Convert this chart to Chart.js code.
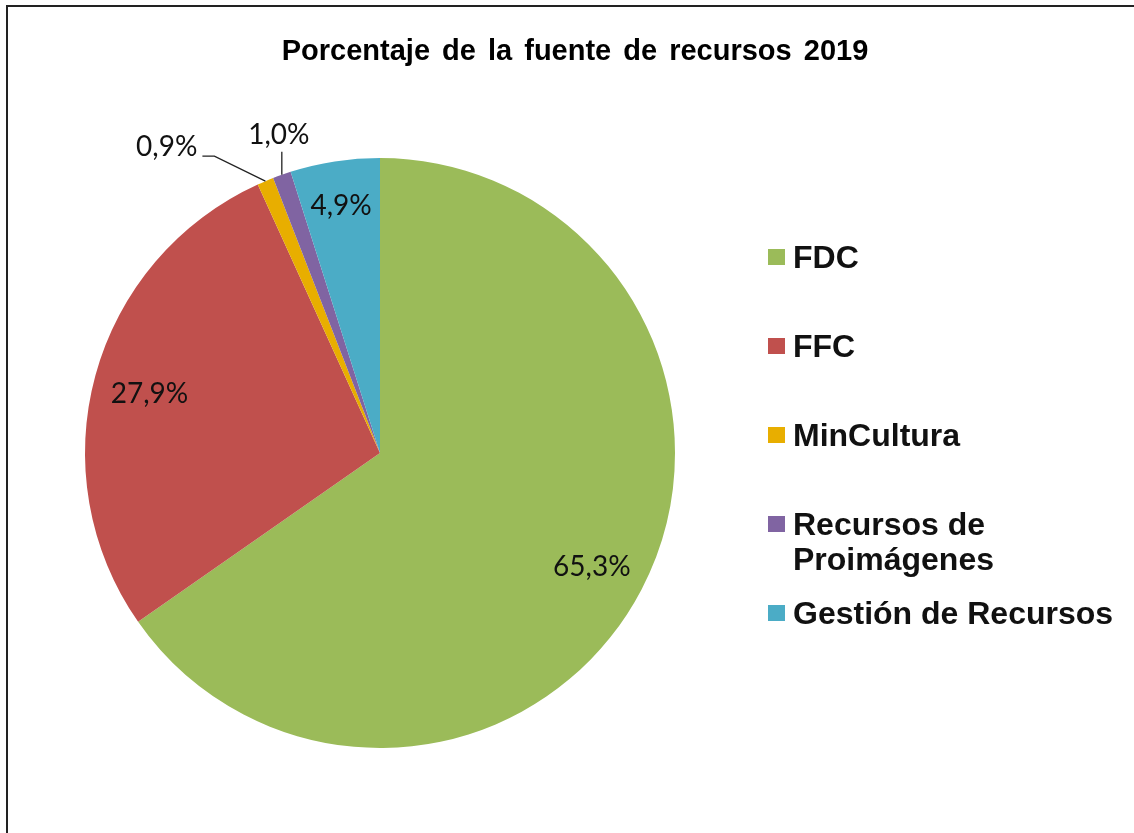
<!DOCTYPE html>
<html>
<head>
<meta charset="utf-8">
<script src="https://cdn.jsdelivr.net/npm/chart.js@4/dist/chart.umd.min.js"></script>
<style>
  html, body { margin: 0; padding: 0; background: #fff; }
  canvas { display: block; }
</style>
</head>
<body>
<canvas id="pie" width="1134" height="833"></canvas>
<script>
// Resource sources 2019, share of total (%).
const categories = ["FDC", "FFC", "MinCultura", "Recursos de Proimágenes", "Gestión de Recursos"];
const legendLines = [["FDC"], ["FFC"], ["MinCultura"], ["Recursos de", "Proimágenes"], ["Gestión de Recursos"]];
const shares = [65.3, 27.9, 0.9, 1.0, 4.9];
const sliceColors = ["#9BBB59", "#C0504D", "#E8AE00", "#8064A2", "#4BACC6"];
const chartTitle = "Porcentaje de la fuente de recursos 2019";

const TEXT = "#111";
const fmt = (v) => v.toFixed(1).replace(".", ",") + "%";

// leader-line callouts for the thin slices: elbow offset, end offset, text anchor offset
const CALLOUTS = {
  2: { elbow: [-51, -25], end: [-63, -25], text: [-68, -35], align: "right" },
  3: { elbow: [0, -23], end: [0, -23], text: [-3, -41], align: "center" },
};

const framePlugin = {
  id: "frame",
  beforeDraw(chart) {
    const c = chart.ctx;
    c.save();
    c.strokeStyle = "#222";
    c.lineWidth = 2;
    c.beginPath();
    c.moveTo(7, chart.height);
    c.lineTo(7, 6);
    c.lineTo(chart.width, 6);
    c.stroke();
    c.restore();
  },
};

const titlePlugin = {
  id: "titleText",
  afterDraw(chart) {
    const c = chart.ctx;
    c.save();
    c.font = "bold 29px 'Liberation Sans', Arial, sans-serif";
    c.fillStyle = "#000";
    c.textAlign = "center";
    c.textBaseline = "alphabetic";
    c.wordSpacing = "4px";
    c.fillText(chartTitle, 575, 60);
    c.restore();
  },
};

// percentage text, visually centred on (x, y)
function digitText(c, s, x, y) {
  c.textBaseline = "alphabetic";
  c.fillText(s, x, y + 10);
}

const sliceLabels = {
  id: "sliceLabels",
  afterDatasetsDraw(chart) {
    const c = chart.ctx;
    const meta = chart.getDatasetMeta(0);
    c.save();
    c.font = "28px Lato, 'Noto Sans', sans-serif";
    c.fillStyle = TEXT;
    c.strokeStyle = "#222";
    c.lineWidth = 1.3;
    meta.data.forEach((arc, i) => {
      const p = arc.getProps(["x", "y", "startAngle", "endAngle", "outerRadius"], true);
      const mid = (p.startAngle + p.endAngle) / 2;
      const v = shares[i];
      const co = CALLOUTS[i];
      if (!co) {
        const k = v < 10 ? 0.86 : 0.81;
        c.textAlign = "center";
        digitText(c, fmt(v), p.x + Math.cos(mid) * p.outerRadius * k, p.y + Math.sin(mid) * p.outerRadius * k + 3);
        return;
      }
      const ex = p.x + Math.cos(mid) * p.outerRadius;
      const ey = p.y + Math.sin(mid) * p.outerRadius;
      c.beginPath();
      c.moveTo(ex, ey);
      c.lineTo(ex + co.elbow[0], ey + co.elbow[1]);
      c.lineTo(ex + co.end[0], ey + co.end[1]);
      c.stroke();
      c.textAlign = co.align;
      digitText(c, fmt(v), ex + co.text[0], ey + co.text[1]);
    });
    c.restore();
  },
};

const sideLegend = {
  id: "sideLegend",
  afterDraw(chart) {
    const c = chart.ctx;
    const colors = chart.data.datasets[0].backgroundColor;
    c.save();
    c.font = "bold 32px 'Liberation Sans', Arial, sans-serif";
    c.textBaseline = "alphabetic";
    c.textAlign = "left";
    legendLines.forEach((lines, i) => {
      const y = 257 + i * 89;
      c.fillStyle = colors[i];
      c.fillRect(768, y - 8, 17, 16);
      c.fillStyle = TEXT;
      lines.forEach((t, j) => c.fillText(t, 793, y + 11 + j * 35));
    });
    c.restore();
  },
};

new Chart(document.getElementById("pie"), {
  type: "pie",
  data: {
    labels: categories,
    datasets: [{ data: shares, backgroundColor: sliceColors, borderWidth: 0 }],
  },
  options: {
    responsive: false,
    animation: false,
    layout: { padding: { left: 85, top: 158, right: 459, bottom: 85 } },
    plugins: {
      legend: { display: false },
      title: { display: false },
      tooltip: { enabled: false },
    },
  },
  plugins: [framePlugin, titlePlugin, sliceLabels, sideLegend],
});
</script>
</body>
</html>
